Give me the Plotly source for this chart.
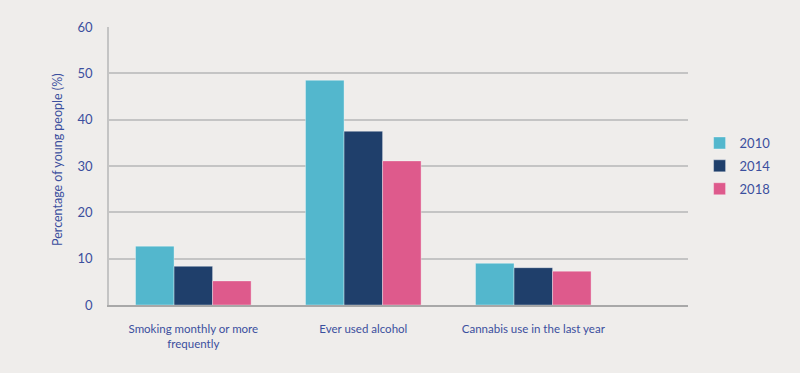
import plotly.graph_objects as go

categories = ["Smoking monthly or more<br>frequently", "Ever used alcohol", "Cannabis use in the last year"]
years = ["2010", "2014", "2018"]
values_2010 = [12.7, 48.5, 9.0]
values_2014 = [8.35, 37.5, 8.05]
values_2018 = [5.2, 31.1, 7.3]
colors = ["#53b7cd", "#1f3f6b", "#de5a8c"]
y_title = "Percentage of young people (%)"

text_color = "#3b4f9e"
font_family = "Lato, 'Open Sans', sans-serif"

fig = go.Figure()
for name, vals, col in zip(years, [values_2010, values_2014, values_2018], colors):
    fig.add_trace(go.Bar(
        x=categories, y=vals, name=name, legendgroup=name,
        marker=dict(color=col, line=dict(color="rgba(255,255,255,0.35)", width=1)),
    ))

fig.update_layout(
    width=800, height=373,
    margin=dict(l=109, r=112, t=27, b=68),
    paper_bgcolor="#efedeb",
    plot_bgcolor="#efedeb",
    barmode="group",
    bargap=0.32,
    bargroupgap=0,
    font=dict(family=font_family, color=text_color, size=12),
    legend=dict(
        x=1.02, y=0.5, xanchor="left", yanchor="middle",
        traceorder="grouped", tracegroupgap=3,
        font=dict(size=13, color=text_color),
        bgcolor="rgba(0,0,0,0)",
    ),
    xaxis=dict(
        range=[-0.496, 2.91],
        showgrid=False,
        showline=True, linecolor="#a8a8a8", linewidth=1.5,
        tickfont=dict(size=11.5, color=text_color),
        ticks="", ticklabelstandoff=12,
    ),
    yaxis=dict(
        range=[0, 60], dtick=10,
        showgrid=True, gridcolor="#c4c4c4", gridwidth=1.5,
        zeroline=False,
        showline=True, linecolor="#c4c4c4", linewidth=1.5,
        tickfont=dict(size=13, color=text_color),
        ticks="", ticklabelstandoff=12,
    ),
    annotations=[dict(
        text=y_title, textangle=-90, showarrow=False,
        xref="paper", yref="paper", x=-0.088, y=0.522,
        xanchor="center", yanchor="middle",
        font=dict(size=12.5, color=text_color),
    )],
)

fig.write_html(
    "out.html",
    config={"displayModeBar": False},
    post_script="document.body.style.margin='0';document.body.style.background='#efedeb';",
)
